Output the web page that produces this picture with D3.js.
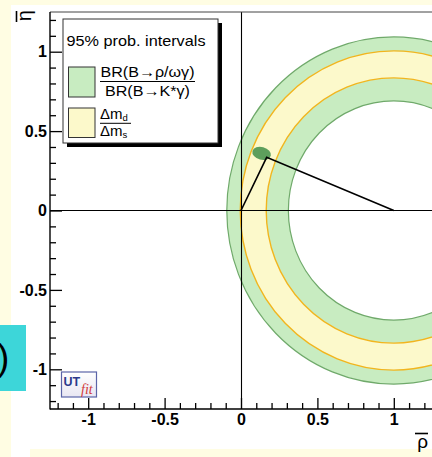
<!DOCTYPE html>
<html><head><meta charset="utf-8">
<script src="https://cdn.jsdelivr.net/npm/d3@7"></script>
<style>html,body{margin:0;padding:0;background:#fffde3;}svg{display:block;}</style>
</head><body>
<script>
// ---- data ----
const xDomain = [-1.25, 1.25];
const yDomain = [-1.25, 1.25];
const majorTicks = [-1, -0.5, 0, 0.5, 1];
const majorLabels = ["-1", "-0.5", "0", "0.5", "1"];
const minorTicks = [-1.2,-1.1,-0.9,-0.8,-0.7,-0.6,-0.4,-0.3,-0.2,-0.1,0.1,0.2,0.3,0.4,0.6,0.7,0.8,0.9,1.1,1.2];
const ringCenter = [1, 0];
const greenBand = [0.69, 1.093];   // BR(B->rho/omega gamma)/BR(B->K* gamma) 95% radii
const yellowBand = [0.835, 1.005]; // dm_d/dm_s 95% radii
const apex = [0.168, 0.335];
const triangle = [[0, 0], apex, [1, 0]];
const ellipseFit = {rho: 0.135, eta: 0.36, r1: 0.062, r2: 0.04, angle: 15};
const legendTitle = "95% prob. intervals";
const legendNum1 = "BR(B\u2192\u03c1/\u03c9\u03b3)";
const legendDen1 = "BR(B\u2192K*\u03b3)";

const W = 432, H = 457;
const svg = d3.select("body").append("svg").attr("width", W).attr("height", H);

// slide background
svg.append("rect").attr("width", W).attr("height", H).attr("fill", "#fffde3");
svg.append("rect").attr("x", 11).attr("y", 5).attr("width", W - 11).attr("height", H - 5).attr("fill", "#ffffff");
svg.append("rect").attr("x", 30).attr("y", 449).attr("width", W - 30).attr("height", 8).attr("fill", "#fffde3");

const x = d3.scaleLinear().domain(xDomain).range([50, 432]);
const y = d3.scaleLinear().domain(yDomain).range([409, 12]);

const defs = svg.append("defs");
defs.append("clipPath").attr("id", "clip")
  .append("rect").attr("x", 50).attr("y", 12).attr("width", 382).attr("height", 397);

const plot = svg.append("g").attr("clip-path", "url(#clip)");

function ellPath(cx, cy, r) {
  const px = x(cx), py = y(cy);
  const rx = x(cx + r) - px, ry = py - y(cy + r);
  return `M${px - rx},${py}A${rx},${ry} 0 1 0 ${px + rx},${py}A${rx},${ry} 0 1 0 ${px - rx},${py}Z`;
}

// green band
plot.append("path")
  .attr("d", ellPath(ringCenter[0], ringCenter[1], greenBand[1]) + ellPath(ringCenter[0], ringCenter[1], greenBand[0]))
  .attr("fill-rule", "evenodd").attr("fill", "#c8ecc1").attr("stroke", "#6fa96a").attr("stroke-width", 1.2);
// yellow band
plot.append("path")
  .attr("d", ellPath(ringCenter[0], ringCenter[1], yellowBand[1]) + ellPath(ringCenter[0], ringCenter[1], yellowBand[0]))
  .attr("fill-rule", "evenodd").attr("fill", "#fcf9cb").attr("stroke", "#f2b51e").attr("stroke-width", 1.4);

// fitted apex ellipse
plot.append("ellipse")
  .attr("cx", x(ellipseFit.rho)).attr("cy", y(ellipseFit.eta))
  .attr("rx", x(ellipseFit.rho + ellipseFit.r1) - x(ellipseFit.rho))
  .attr("ry", y(ellipseFit.eta) - y(ellipseFit.eta + ellipseFit.r2))
  .attr("transform", `rotate(${ellipseFit.angle},${x(ellipseFit.rho)},${y(ellipseFit.eta)})`)
  .attr("fill", "#5d9f5c");

// zero lines
plot.append("line").attr("x1", 50).attr("x2", 432).attr("y1", y(0)).attr("y2", y(0)).attr("stroke", "#000").attr("stroke-width", 1.1);
plot.append("line").attr("x1", x(0) + 0.5).attr("x2", x(0) + 0.5).attr("y1", 12).attr("y2", 409).attr("stroke", "#000").attr("stroke-width", 1.1);

// triangle
plot.append("path")
  .attr("d", d3.line().x(d => x(d[0])).y(d => y(d[1]))(triangle))
  .attr("fill", "none").attr("stroke", "#000").attr("stroke-width", 1.6);

// frame
svg.append("line").attr("x1", 50).attr("x2", 432).attr("y1", 12).attr("y2", 12).attr("stroke", "#444").attr("stroke-width", 1);
svg.append("line").attr("x1", 50).attr("x2", 50).attr("y1", 12).attr("y2", 409.5).attr("stroke", "#000").attr("stroke-width", 1.4);
svg.append("line").attr("x1", 50).attr("x2", 432).attr("y1", 409).attr("y2", 409).attr("stroke", "#000").attr("stroke-width", 1.4);

// axes
const font = "'Liberation Sans', Arial, Helvetica, sans-serif";
function styleAxis(g) {
  g.select(".domain").remove();
  g.selectAll(".tick line").attr("stroke", "#000").attr("stroke-width", 1.3);
  g.selectAll(".tick text").attr("font-family", font).attr("font-weight", "bold").attr("font-size", 16).attr("fill", "#000");
}
svg.append("g").attr("transform", "translate(50,0)")
  .call(d3.axisLeft(y).tickValues(majorTicks).tickFormat((d, i) => majorLabels[i]).tickSizeInner(-12).tickSizeOuter(0).tickPadding(3))
  .call(styleAxis);
svg.append("g").attr("transform", "translate(50,0)")
  .call(d3.axisLeft(y).tickValues(minorTicks).tickFormat("").tickSizeInner(-6).tickSizeOuter(0))
  .call(styleAxis);
svg.append("g").attr("transform", "translate(0,409)")
  .call(d3.axisBottom(x).tickValues(majorTicks).tickFormat((d, i) => majorLabels[i]).tickSizeInner(-11).tickSizeOuter(0).tickPadding(5))
  .call(styleAxis);
svg.append("g").attr("transform", "translate(0,409)")
  .call(d3.axisBottom(x).tickValues(minorTicks).tickFormat("").tickSizeInner(-6).tickSizeOuter(0))
  .call(styleAxis);

// axis titles
const yt = svg.append("g").attr("transform", "translate(31,10) rotate(-90)");
yt.append("text").attr("text-anchor", "end").attr("font-family", font).attr("font-size", 20).text("\u03b7");
yt.append("line").attr("x1", -12).attr("x2", -1).attr("y1", -14.5).attr("y2", -14.5).attr("stroke", "#000").attr("stroke-width", 1.6);
svg.append("text").attr("x", 428).attr("y", 448).attr("text-anchor", "end").attr("font-family", font).attr("font-size", 19).text("\u03c1");
svg.append("line").attr("x1", 415).attr("x2", 428).attr("y1", 433.5).attr("y2", 433.5).attr("stroke", "#000").attr("stroke-width", 1.6);

// legend
svg.append("rect").attr("x", 67).attr("y", 23).attr("width", 155).attr("height", 124).attr("fill", "#000");
svg.append("rect").attr("x", 63).attr("y", 19).attr("width", 155).attr("height", 124).attr("fill", "#fff").attr("stroke", "#333").attr("stroke-width", 1);
svg.append("text").attr("x", 66.5).attr("y", 45.5).attr("font-family", font).attr("font-size", 15).attr("textLength", 139).attr("lengthAdjust", "spacingAndGlyphs").text(legendTitle);
svg.append("rect").attr("x", 68.5).attr("y", 67).attr("width", 26.5).attr("height", 30).attr("fill", "#c8ecc1").attr("stroke", "#333").attr("stroke-width", 1);
svg.append("rect").attr("x", 68.5).attr("y", 108).attr("width", 26.5).attr("height", 29.5).attr("fill", "#fcf9cb").attr("stroke", "#333").attr("stroke-width", 1);
svg.append("text").attr("x", 147.5).attr("y", 77).attr("text-anchor", "middle").attr("font-family", font).attr("font-size", 15).attr("textLength", 94).attr("lengthAdjust", "spacingAndGlyphs").text(legendNum1);
svg.append("line").attr("x1", 100).attr("x2", 195).attr("y1", 81.5).attr("y2", 81.5).attr("stroke", "#000").attr("stroke-width", 1);
svg.append("text").attr("x", 147.5).attr("y", 95.5).attr("text-anchor", "middle").attr("font-family", font).attr("font-size", 15).attr("textLength", 85).attr("lengthAdjust", "spacingAndGlyphs").text(legendDen1);
const t1 = svg.append("text").attr("x", 100).attr("y", 119).attr("font-family", font).attr("font-size", 15);
t1.append("tspan").text("\u0394m");
t1.append("tspan").attr("font-size", 9.5).attr("dy", 2).text("d");
svg.append("line").attr("x1", 100).attr("x2", 131).attr("y1", 123.3).attr("y2", 123.3).attr("stroke", "#000").attr("stroke-width", 1);
const t2 = svg.append("text").attr("x", 100).attr("y", 135.5).attr("font-family", font).attr("font-size", 15);
t2.append("tspan").text("\u0394m");
t2.append("tspan").attr("font-size", 9.5).attr("dy", 2).text("s");

// UTfit logo
const grad = defs.append("linearGradient").attr("id", "lg").attr("x1", 0).attr("y1", 0).attr("x2", 0).attr("y2", 1);
grad.append("stop").attr("offset", "0%").attr("stop-color", "#ffffff");
grad.append("stop").attr("offset", "100%").attr("stop-color", "#e8e6f2");
svg.append("rect").attr("x", 61.5).attr("y", 372).attr("width", 35).attr("height", 25).attr("fill", "url(#lg)").attr("stroke", "#5b64a8").attr("stroke-width", 1.2);
svg.append("text").attr("x", 63.5).attr("y", 386).attr("font-family", font).attr("font-weight", "bold").attr("font-size", 12.5).attr("fill", "#2c3a8c").text("UT");
svg.append("text").attr("x", 81).attr("y", 393.5).attr("font-family", "'Liberation Serif', serif").attr("font-style", "italic").attr("font-size", 14).attr("fill", "#d23a3a").text("fit");

// cyan slide box
svg.append("rect").attr("x", 0).attr("y", 325).attr("width", 26).attr("height", 66).attr("fill", "#3dd6d9");
svg.append("text").attr("x", -3).attr("y", 370).attr("font-family", font).attr("font-size", 37).attr("fill", "#000").text(")");
</script>
</body></html>
